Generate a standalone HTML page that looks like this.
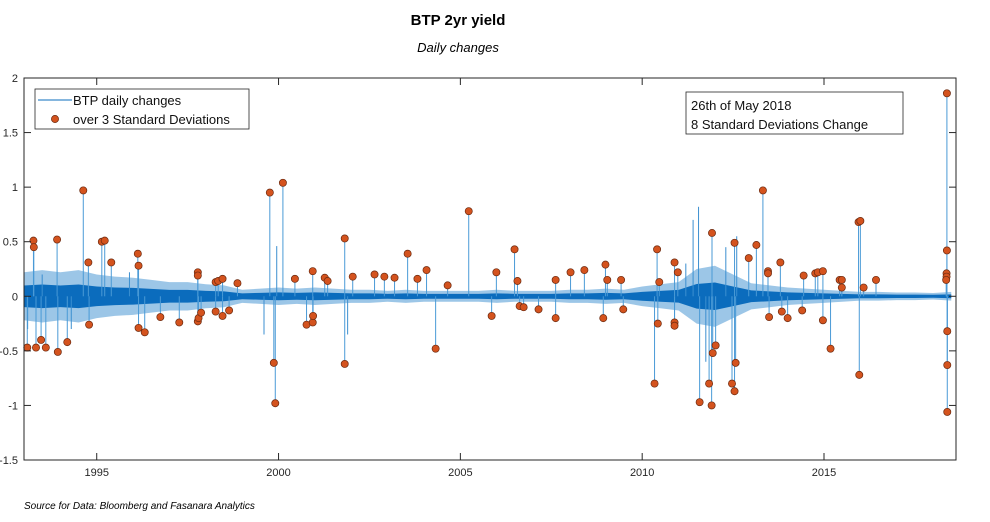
<!DOCTYPE html>
<html><head><meta charset="utf-8"><style>
body{margin:0;background:#fff;width:990px;height:522px;overflow:hidden;font-family:"Liberation Sans",sans-serif}
svg{display:block}
</style></head><body>
<svg id="chart" width="990" height="522">
<text x="458" y="25" text-anchor="middle" font-size="15" font-weight="bold">BTP 2yr yield</text>
<text x="458" y="52" text-anchor="middle" font-size="13" font-style="italic">Daily changes</text>
<text x="24" y="509" font-size="10" font-style="italic">Source for Data: Bloomberg and Fasanara Analytics</text>
<g id="plot"></g>
</svg>
<script>
const envYears=[1993,1993.5,1994,1994.5,1995,1995.5,1996,1996.5,1997,1997.5,1998,1998.5,1999,1999.5,2000,2000.5,2001,2001.5,2002,2002.5,2003,2003.5,2004,2004.5,2005,2005.5,2006,2006.5,2007,2007.5,2008,2008.5,2009,2009.5,2010,2010.5,2011,2011.5,2012,2012.5,2013,2013.5,2014,2014.5,2015,2015.5,2016,2016.5,2017,2017.5,2018,2018.5];
const envAmp=[0.22,0.24,0.22,0.24,0.2,0.18,0.17,0.15,0.13,0.13,0.11,0.1,0.06,0.07,0.08,0.07,0.08,0.07,0.06,0.06,0.05,0.06,0.05,0.05,0.05,0.05,0.06,0.05,0.05,0.05,0.06,0.06,0.07,0.06,0.09,0.11,0.13,0.25,0.28,0.2,0.12,0.1,0.08,0.07,0.06,0.05,0.04,0.04,0.035,0.035,0.03,0.04];
const spikeYears=[1993.1,1993.5,1994.3,1995.9,1999.6,1999.95,2001.9,2011.2,2011.4,2011.55,2011.75,2012.3,2012.6];
const spikeVals=[-0.3,0.2,-0.3,0.22,-0.35,0.46,-0.35,0.3,0.7,0.82,-0.6,0.45,0.55];
const outYears=[1993.09,1993.26,1993.27,1993.33,1993.47,1993.6,1993.91,1993.93,1994.19,1994.63,1994.77,1994.79,1995.14,1995.22,1995.4,1996.13,1996.15,1996.15,1996.32,1996.75,1997.27,1997.78,1997.78,1997.78,1997.8,1997.87,1998.27,1998.34,1998.46,1998.27,1998.46,1998.64,1998.87,1999.76,1999.87,1999.91,2000.12,2000.45,2000.77,2000.94,2000.95,2000.94,2001.27,2001.35,2001.82,2001.82,2002.04,2002.64,2002.91,2003.19,2003.55,2003.82,2004.07,2004.32,2004.65,2005.23,2005.86,2005.99,2006.49,2006.57,2006.63,2006.74,2007.15,2007.62,2007.62,2008.03,2008.41,2008.93,2008.99,2009.04,2009.42,2009.48,2010.34,2010.41,2010.43,2010.47,2010.89,2010.89,2010.89,2010.98,2011.58,2011.84,2011.91,2011.92,2011.94,2012.02,2012.47,2012.54,2012.54,2012.57,2012.93,2013.14,2013.32,2013.46,2013.46,2013.49,2013.8,2013.84,2014.0,2014.4,2014.44,2014.76,2014.83,2014.97,2014.97,2015.18,2015.43,2015.49,2015.49,2015.95,2016.0,2015.97,2016.09,2016.43,2018.38,2018.38,2018.37,2018.37,2018.36,2018.39,2018.39,2018.39];
const outVals=[-0.47,0.51,0.45,-0.47,-0.4,-0.47,0.52,-0.51,-0.42,0.97,0.31,-0.26,0.5,0.51,0.31,0.39,0.28,-0.29,-0.33,-0.19,-0.24,0.22,0.19,-0.23,-0.2,-0.15,0.13,0.14,0.16,-0.14,-0.18,-0.13,0.12,0.95,-0.61,-0.98,1.04,0.16,-0.26,-0.24,-0.18,0.23,0.17,0.14,-0.62,0.53,0.18,0.2,0.18,0.17,0.39,0.16,0.24,-0.48,0.1,0.78,-0.18,0.22,0.43,0.14,-0.09,-0.1,-0.12,0.15,-0.2,0.22,0.24,-0.2,0.29,0.15,0.15,-0.12,-0.8,0.43,-0.25,0.13,0.31,-0.24,-0.27,0.22,-0.97,-0.8,-1.0,0.58,-0.52,-0.45,-0.8,0.49,-0.87,-0.61,0.35,0.47,0.97,0.23,0.21,-0.19,0.31,-0.14,-0.2,-0.13,0.19,0.21,0.22,0.23,-0.22,-0.48,0.15,0.15,0.08,0.68,0.69,-0.72,0.08,0.15,1.86,0.42,0.21,0.18,0.15,-0.32,-0.63,-1.06];
const xTicks=[1995,2000,2005,2010,2015];
const yTicks=[-1.5,-1,-0.5,0,0.5,1,1.5,2];

const L=24,R=956,T=78,B=460,X0=1993,X1=2018.63,Y0=-1.5,Y1=2;
const sx=v=>L+(v-X0)/(X1-X0)*(R-L);
const sy=v=>B-(v-Y0)/(Y1-Y0)*(B-T);
const NS='http://www.w3.org/2000/svg';
const g=document.getElementById('plot');
function mk(t,a,p){const e=document.createElementNS(NS,t);for(const k in a)e.setAttribute(k,a[k]);(p||g).appendChild(e);return e;}

const bandTop=envYears.map((y,i)=>sx(y)+','+sy(envAmp[i])).join(' ');
const bandBot=envYears.map((y,i)=>sx(y)+','+sy(-envAmp[i])).reverse().join(' ');
const band=mk('polygon',{points:bandTop+' '+bandBot,fill:'#4a98d4','fill-opacity':'0.55'});


const coreTop=envYears.map((y,i)=>sx(y)+','+sy(envAmp[i]*0.45)).join(' ');
const coreBot=envYears.map((y,i)=>sx(y)+','+sy(-envAmp[i]*0.45)).reverse().join(' ');
const core=mk('polygon',{points:coreTop+' '+coreBot,fill:'#0b6cbd'});


mk('line',{x1:L,x2:sx(2018.45),y1:sy(0),y2:sy(0),stroke:'#0b6cbd','stroke-width':1.5});

spikeYears.forEach((y,i)=>{
  const l=mk('line',{x1:sx(y),x2:sx(y),y1:sy(0),y2:sy(spikeVals[i]),stroke:'#3b8fd0','stroke-width':1});
  
  
});
outYears.forEach((y,i)=>{
  const l=mk('line',{x1:sx(y),x2:sx(y),y1:sy(0),y2:sy(outVals[i]),stroke:'#4a9ad6','stroke-width':1});
  
  
});
outYears.forEach((y,i)=>{
  const c=mk('circle',{cx:sx(y),cy:sy(outVals[i]),r:3.6,fill:'#d4531e',stroke:'#6b2a10','stroke-width':0.7});
  
  
});

const box=mk('rect',{x:L,y:T,width:R-L,height:B-T,fill:'none',stroke:'#262626','stroke-width':1});


xTicks.forEach(t=>{
  mk('line',{x1:sx(t),x2:sx(t),y1:B,y2:B-7,stroke:'#262626'});
  mk('line',{x1:sx(t),x2:sx(t),y1:T,y2:T+7,stroke:'#262626'});
  const tx=mk('text',{x:sx(t),y:B+16,'text-anchor':'middle','font-size':11,fill:'#262626'});
  tx.textContent=t;
  
  
});
yTicks.forEach(t=>{
  mk('line',{x1:L,x2:L+7,y1:sy(t),y2:sy(t),stroke:'#262626'});
  mk('line',{x1:R,x2:R-7,y1:sy(t),y2:sy(t),stroke:'#262626'});
  const tx=mk('text',{x:L-6,y:sy(t)+4,'text-anchor':'end','font-size':11,fill:'#262626'});
  tx.textContent=t;
  
  
});

const lg=mk('g',{});


mk('rect',{x:35,y:89,width:214,height:40,fill:'#fff',stroke:'#262626','stroke-width':0.8},lg);
mk('line',{x1:38,x2:72,y1:100,y2:100,stroke:'#0b6cbd','stroke-width':1},lg);
const t1=mk('text',{x:73,y:105,'font-size':13,fill:'#111'},lg);t1.textContent='BTP daily changes';


mk('circle',{cx:55,cy:119,r:3.6,fill:'#d4531e',stroke:'#6b2a10','stroke-width':0.7},lg);
const t2=mk('text',{x:73,y:124,'font-size':13,fill:'#111'},lg);t2.textContent='over 3 Standard Deviations';



const an=mk('g',{});


mk('rect',{x:686,y:92,width:217,height:42,fill:'#fff',stroke:'#262626','stroke-width':0.8},an);
const a1=mk('text',{x:691,y:110,'font-size':13,fill:'#111'},an);a1.textContent='26th of May 2018';
const a2=mk('text',{x:691,y:129,'font-size':13,fill:'#111'},an);a2.textContent='8 Standard Deviations Change';
</script>
</body></html>
